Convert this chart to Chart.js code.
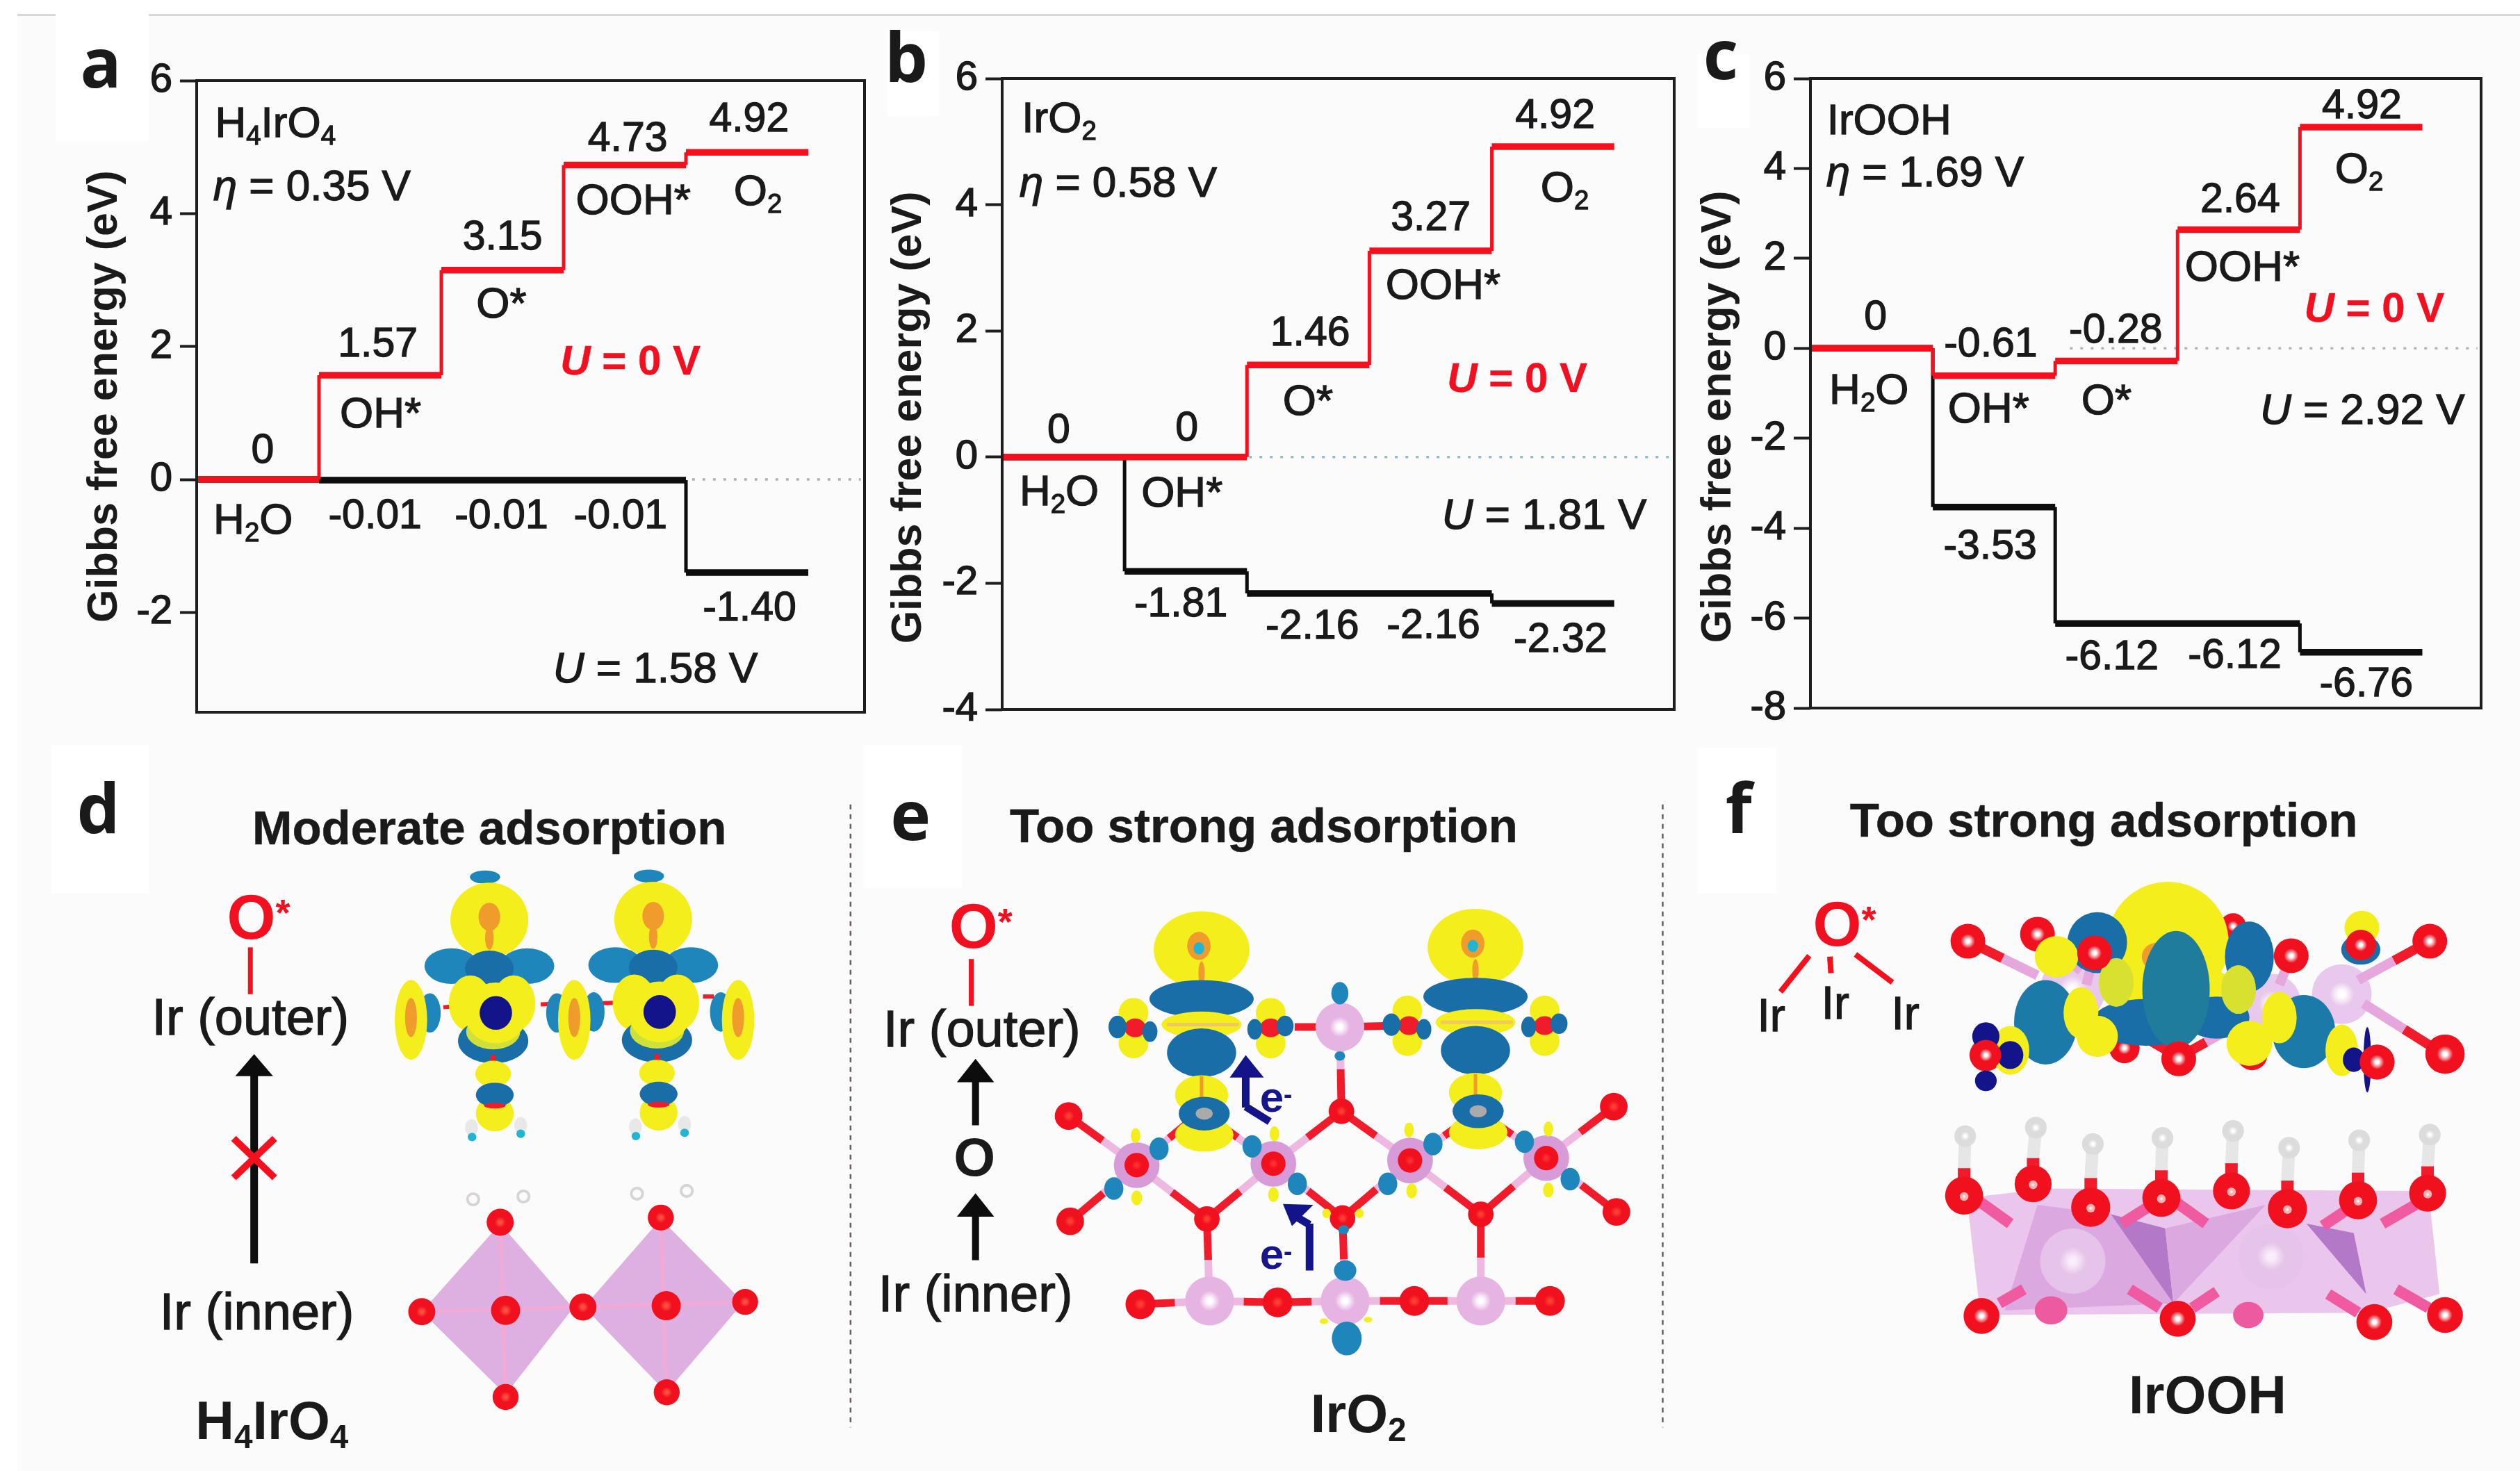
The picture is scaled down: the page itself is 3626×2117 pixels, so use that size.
<!DOCTYPE html>
<html>
<head>
<meta charset="utf-8">
<script src="https://cdn.jsdelivr.net/npm/chart.js@4"></script>
<style>
html,body{margin:0;padding:0;background:#fff}
#page{position:relative;width:3626px;height:2117px;overflow:hidden;background:#fff;font-family:"Liberation Sans",Arial,sans-serif;color:#1a1a1a;filter:blur(0.7px)}
#paper{position:absolute;left:25px;top:20px;right:0;bottom:0;background:#fbfbfb;border-top:3px solid #d9d9d9}
canvas{position:absolute}
.box{position:absolute;background:#fff}
.txt{position:absolute;white-space:nowrap;line-height:1;transform:translate(-50%,-50%);-webkit-text-stroke:1.3px #1a1a1a}
.txt sub{font-size:62%;line-height:0;vertical-align:-.28em}
.txt sup{font-size:60%;line-height:0;vertical-align:.35em}
.v{font-size:59px}
.s{font-size:62px}
.r{color:#f01020;-webkit-text-stroke:.4px #f01020;font-weight:bold;font-size:60px}
.k{font-family:"Open Sans";font-weight:bold;font-size:98px;-webkit-text-stroke:0}
.h{font-weight:bold;font-size:69px;-webkit-text-stroke:.5px #1a1a1a}
.ir{font-size:74px}
.f{font-size:66px}
.big{font-weight:bold;font-size:77px;-webkit-text-stroke:0}
.os{font-weight:bold;font-size:90px;color:#f01020;-webkit-text-stroke:0}
.navy{font-weight:bold;font-size:62px;color:#16168c;-webkit-text-stroke:0}
</style>
</head>
<body>
<div id="page"><div id="paper"></div></div>
<script>
// energies, one value per state
var energyA0=[0,1.57,3.15,4.73,4.92];
var energyAU=[0,-0.01,-0.01,-0.01,-1.40];
var energyB0=[0,0,1.46,3.27,4.92];
var energyBU=[0,-1.81,-2.16,-2.16,-2.32];
var energyC0=[0,-0.61,-0.28,2.64,4.92];
var energyCU=[0,-3.53,-6.12,-6.12,-6.76];
var majorA=[6,4,2,0,-2], minorA=[5,3,1,-1,-3];
var majorB=[6,4,2,0,-2,-4], minorB=[5,3,1,-1,-3];
var majorC=[6,4,2,0,-2,-4,-6,-8], minorC=[5,3,1,-1,-3,-5,-7];
var zeroStartA=4.05, zeroStartB=1.08, zeroStartC=2.12;

var RED='#f5101e', BLACK='#0d0d0d';

function levels(v){
  var pts=[];
  for(var i=0;i<v.length;i++){pts.push({x:i,y:v[i]},{x:i+1,y:v[i]},{x:i+1,y:null});}
  return pts;
}
function risers(v){
  var pts=[];
  for(var i=1;i<v.length;i++){pts.push({x:i,y:v[i-1]},{x:i,y:v[i]},{x:i,y:null});}
  return pts;
}
function frame(color){
  return {id:'frame',afterDatasetsDraw:function(chart){
    var a=chart.chartArea,c=chart.ctx;
    c.save();c.strokeStyle=color;c.lineWidth=4;
    c.strokeRect(a.left,a.top,a.right-a.left,a.bottom-a.top);
    c.restore();
  }};
}
function energyChart(o){
  var cv=document.createElement('canvas');
  cv.width=o.right+10-o.left;cv.height=o.bottom-o.top+100;
  cv.style.left=o.left+'px';cv.style.top=(o.top-50)+'px';
  document.getElementById('page').appendChild(cv);
  var line=function(data,color,w,order,dash){
    return {data:data,borderColor:color,borderWidth:w,pointRadius:0,order:order,spanGaps:false,borderDash:dash||[],borderCapStyle:'butt'};
  };
  new Chart(cv,{
    type:'line',
    data:{datasets:[
      line([{x:o.zeroStart,y:0},{x:o.xMax-0.03,y:0}],o.zeroColor,3.5,5,[4,11]),
      line(risers(o.u),BLACK,5,4),
      line(levels(o.u),BLACK,9.5,3),
      line(risers(o.e0),RED,5,2),
      line(levels(o.e0),RED,9.5,1)
    ]},
    options:{
      responsive:false,animation:false,
      layout:{padding:{top:50,bottom:50,right:10,left:0}},
      plugins:{legend:{display:false},tooltip:{enabled:false}},
      scales:{
        x:{type:'linear',display:false,min:0,max:o.xMax},
        y:{
          min:o.yMin,max:6,position:'left',
          afterBuildTicks:function(ax){ax.ticks=o.major.map(function(v){return {value:v};});},
          afterFit:function(ax){ax.width=o.axisW;},
          border:{display:false},
          grid:{drawOnChartArea:false,tickLength:24,tickWidth:4,tickColor:'#1d1d1d'},
          ticks:{autoSkip:false,padding:11,color:'#1a1a1a',textStrokeColor:'#1a1a1a',textStrokeWidth:1.5,font:{family:'Liberation Sans',size:58}},
          // trailing spaces push the centred title down the axis, as in the figure
          title:{display:true,text:'Gibbs free energy (eV)'+o.titlePad,color:'#1a1a1a',padding:0,font:{family:'Liberation Sans',size:61,weight:'bold'}}
        },
        yMinor:{
          min:o.yMin,max:6,position:'left',
          afterBuildTicks:function(ax){ax.ticks=o.minor.map(function(v){return {value:v};});},
          afterFit:function(ax){ax.width=0;},
          border:{display:false},
          grid:{drawOnChartArea:false,tickLength:9,tickWidth:3,tickColor:'#1d1d1d'},
          ticks:{display:false}
        }
      }
    },
    plugins:[frame('#1d1d1d')]
  });
}
energyChart({left:115,top:116,right:1244,bottom:1025,axisW:168,xMax:5.46,yMin:-3.5,e0:energyA0,u:energyAU,major:majorA,minor:minorA,zeroStart:zeroStartA,zeroColor:'#b0b0b0',titlePad:''});
energyChart({left:1272,top:113,right:2409,bottom:1021,axisW:170,xMax:5.49,yMin:-4,e0:energyB0,u:energyBU,major:majorB,minor:minorB,zeroStart:zeroStartB,zeroColor:'#8fbcc6',titlePad:'    '});
energyChart({left:2437,top:113,right:3570,bottom:1019,axisW:168,xMax:5.48,yMin:-8,e0:energyC0,u:energyCU,major:majorC,minor:minorC,zeroStart:zeroStartC,zeroColor:'#b4b4b4',titlePad:'    '});

// ---- schematic structures: each panel is a hidden 0-1568 scatter space over its crop ----
var YEL='#f4ee1c',BLU='#1f86bb',DBL='#1a6ea8',ORG='#ef9c2c',NAV='#14148a',HOT='#ee5aa0',GRN='#cfe03a',CYN='#22b4d4';

function copy(items,dx,dy){
  return items.map(function(s){
    if(s[0]=='p'){var p=s[2].map(function(v,i){return v+(i%2?dy:dx);});return ['p',s[1],p];}
    if(s[0]=='l'){return ['l',s[1]+dx,s[2]+dy,s[3]+dx,s[4]+dy,s[5],s[6],s[7]];}
    var t=s.slice();t[1]+=dx;t[2]+=dy;return t;
  });
}
function bonds(list,w,redC,pinkC){
  var out=[];
  list.forEach(function(b){
    var mx=(b[0]+b[2])/2,my=(b[1]+b[3])/2;
    out.push(['l',b[0],b[1],mx,my,w,redC||'#f01c2c']);
    out.push(['l',mx,my,b[2],b[3],w,pinkC||'#eeb8e0']);
  });
  return out;
}
function atoms(list,inner,outer){
  return list.map(function(a){return ['c',a[0],a[1],a[2],inner,outer];});
}
function drawScene(chart,items){
  var c=chart.ctx,sx=chart.scales.x,sy=chart.scales.y;
  var X=function(v){return sx.getPixelForValue(v);},Y=function(v){return sy.getPixelForValue(v);};
  var k=X(1)-X(0);
  c.save();
  items.forEach(function(s){
    if(s[0]=='e'){
      c.fillStyle=s[5];c.beginPath();
      c.ellipse(X(s[1]),Y(s[2]),s[3]*k,(Y(s[4])-Y(0)),0,0,Math.PI*2);c.fill();
    }else if(s[0]=='c'){
      var r=s[3]*k,g=c.createRadialGradient(X(s[1]),Y(s[2]),r*0.1,X(s[1]),Y(s[2]),r);
      g.addColorStop(0,s[4]);g.addColorStop(0.35,s[5]);g.addColorStop(1,s[5]);
      c.fillStyle=g;c.beginPath();c.arc(X(s[1]),Y(s[2]),r,0,Math.PI*2);c.fill();
    }else if(s[0]=='l'){
      c.strokeStyle=s[6];c.lineWidth=s[5];c.setLineDash(s[7]||[]);c.beginPath();
      c.moveTo(X(s[1]),Y(s[2]));c.lineTo(X(s[3]),Y(s[4]));c.stroke();c.setLineDash([]);
    }else if(s[0]=='p'){
      c.fillStyle=s[1];c.beginPath();
      for(var i=0;i<s[2].length;i+=2){c.lineTo(X(s[2][i]),Y(s[2][i+1]));}
      c.closePath();c.fill();
    }
  });
  c.restore();
}
function sceneChart(left,top,w,h,items){
  var cv=document.createElement('canvas');
  cv.width=w;cv.height=h;cv.style.left=left+'px';cv.style.top=top+'px';
  document.getElementById('page').appendChild(cv);
  new Chart(cv,{
    type:'scatter',data:{datasets:[]},
    options:{responsive:false,animation:false,
      plugins:{legend:{display:false},tooltip:{enabled:false}},
      scales:{x:{type:'linear',display:false,min:0,max:1568},y:{type:'linear',display:false,min:0,max:1568,reverse:true}}},
    plugins:[{id:'scene',afterDatasetsDraw:function(chart){drawScene(chart,items);}}]
  });
}

// panel d
var blobD=[
  ['e',897,300,28,14,BLU],
  ['e',905,392,72,80,YEL],['e',905,385,20,30,ORG],['e',905,430,8,25,ORG],
  ['e',835,490,50,38,BLU],['e',975,490,50,38,BLU],['e',905,495,45,38,DBL],
  ['e',870,570,40,60,YEL],['e',950,570,40,60,YEL],
  ['e',912,650,65,48,DBL],['e',912,630,50,38,GRN],
  ['e',917,590,58,65,YEL],['e',917,590,30,36,NAV],
  ['l',912,680,912,800,7,'#f01c2c'],
  ['e',912,720,33,28,YEL],['e',915,805,35,38,YEL],['e',915,765,35,26,DBL],['e',915,788,20,6,'#f01c2c'],
  ['e',872,835,12,18,'#e8e8e8'],['e',963,830,12,18,'#e8e8e8'],['e',873,855,8,9,CYN],['e',963,848,8,9,CYN],
  ['e',795,590,20,42,BLU],['e',1030,590,20,42,BLU]
];
var sideD=[];
[760,1062,1365].forEach(function(x){
  sideD.push(['e',x,605,30,85,YEL],['e',x,600,11,42,ORG]);
});
var polyD=[
  ['p','#deb0e2',[925,1040,1060,1220,935,1405,780,1228]],
  ['p','#deb0e2',[1222,1030,1375,1208,1232,1400,1080,1218]],
  ['l',925,1040,935,1405,5,'#f4a8d4'],['l',780,1228,1080,1218,5,'#f4a8d4'],
  ['l',1222,1030,1232,1400,5,'#f4a8d4'],['l',1080,1218,1378,1207,5,'#f4a8d4']
];
var oxyD=[[925,1037,25],[780,1228,25],[935,1225,27],[1078,1218,25],[935,1410,24],[1222,1027,24],[1232,1215,27],[1378,1207,24],[1233,1400,24]];
var hydD=[[875,988,13],[968,982,13],[1178,976,13],[1270,970,13]];
var sceneD=[].concat(
  [['l',463,450,463,550,7,RED]],
  [['l',470,720,470,1125,11,BLACK],['p',BLACK,[470,678,435,725,505,725]]],
  [['l',432,858,508,942,10,RED],['l',508,858,432,942,10,RED]],
  [['l',820,578,850,575,6,'#f01c2c'],['l',1000,572,1035,570,6,'#f01c2c'],['l',1100,570,1140,568,6,'#f01c2c'],['l',1300,555,1320,555,6,'#f01c2c']],
  blobD,copy(blobD,303,-2),sideD,
  polyD,
  atoms(hydD,'#fff','#d8d4d4').concat(atoms(hydD.map(function(h){return [h[0],h[1],h[2]-5];}),'#fbfbfb','#fbfbfb')),
  atoms(oxyD,'#ff5040','#f0101e')
);
sceneChart(0,1060,1220,1057,sceneD);

// panel e
var blobE=[
  ['e',665,455,90,82,YEL],['e',660,447,22,30,ORG],['e',660,452,10,13,CYN],['e',665,505,6,25,ORG],
  ['e',665,560,98,40,DBL],
  ['e',665,615,75,28,YEL],['l',600,615,735,615,5,'#f0c860'],
  ['e',665,675,65,52,DBL],
  ['e',670,850,55,36,YEL],
  ['e',665,765,50,42,YEL],['l',665,725,665,790,5,ORG],
  ['e',670,805,48,36,DBL],['e',670,805,16,13,'#aaa'],
  // side clusters
  ['e',537,590,28,32,YEL],['e',537,655,28,32,YEL],['e',795,590,28,32,YEL],['e',795,655,28,32,YEL],
  ['e',540,622,20,20,'#f01c2c'],['e',795,622,20,20,'#f01c2c'],
  ['e',507,620,17,24,DBL],['e',568,630,14,22,DBL],['e',765,625,14,22,DBL],['e',822,618,16,22,DBL]
];
var bondsE=[
  [415,810,543,915],[418,1035,543,915],[675,1030,543,915],[675,1030,800,912],[928,800,800,912],[930,1028,800,912],
  [928,800,1057,905],[930,1028,1057,905],[1190,1020,1057,905],[1190,1020,1313,900],[1440,790,1313,900],[1445,1015,1313,900],
  [665,800,543,915],[665,800,800,912],[1185,800,1057,905],[1185,800,1313,900],
  [675,1030,680,1205],[930,1028,935,1205],[1190,1020,1190,1205],[928,800,925,620],
  [550,1212,680,1205],[808,1208,680,1205],[808,1208,935,1205],[1065,1205,935,1205],[1065,1205,1190,1205],[1320,1205,1190,1205],
  [840,620,925,620],[1010,618,925,620]
];
var irTopE=[[925,620,46],[680,1205,46],[935,1205,46],[1190,1205,46]];
var irMidE=[[543,915,43],[800,912,43],[1057,905,43],[1313,900,43]];
var oxyE=[[928,800,24],[675,1030,24],[930,1028,24],[1190,1020,24],[415,810,26],[418,1035,26],[1440,790,26],[1445,1015,26],[550,1212,28],[808,1208,28],[1065,1205,28],[1320,1205,28]];
var redMidE=irMidE.map(function(a){return [a[0],a[1],23];});
var smallBlueE=[[585,880,18,24],[500,965,18,24],[760,875,18,24],[845,955,18,24],[1100,870,18,24],[1015,955,18,24],[1272,865,18,24],[1358,945,18,24],[925,548,16,24],[925,682,10,10],[935,1140,21,22],[938,1285,28,36],[932,1053,10,10]];
var smallYelE=[[541,852,9,16],[543,985,10,16],[802,848,9,16],[800,978,10,16],[1055,840,9,16],[1060,970,10,16],[1317,838,9,16],[1317,968,10,16],[900,1018,8,10],[962,1018,8,10],[895,1248,8,6],[978,1245,8,6]];
var navyE=[
  ['l',793,822,748,790,11,NAV],['l',748,792,748,720,11,NAV],['p',NAV,[748,680,718,728,782,728]],
  ['l',868,1140,868,1040,11,NAV],['l',868,1042,835,1020,11,NAV],['p',NAV,[818,998,875,1000,835,1045]]
];
var sceneE=[].concat(
  [['l',5,145,5,1475,2.5,'#6b5a66',[7,7]],['l',1532,145,1532,1475,2.5,'#6b5a66',[7,7]]],
  [['l',232,475,232,575,7,RED]],
  [['l',240,735,240,830,10,BLACK],['p',BLACK,[240,688,205,738,275,738]]],
  [['l',240,1020,240,1118,10,BLACK],['p',BLACK,[240,975,205,1025,275,1025]]],
  bonds(bondsE,11),
  atoms(irTopE,'#fff','#e6b4e2'),
  atoms(irMidE,'#f4d0f0','#d79cd8'),
  atoms(redMidE,'#ff3030','#f0101e'),
  atoms(oxyE,'#ff4030','#f0101e'),
  blobE,copy(blobE,515,-5),
  smallBlueE.map(function(a){return ['e',a[0],a[1],a[2],a[3],BLU];}),
  smallYelE.map(function(a){return ['e',a[0],a[1],a[2],a[3],YEL];}),
  navyE
);
sceneChart(1220,1060,1200,1057,sceneE);

// panel f
var bondsFtop=[[552,437,680,510],[680,425,760,500],[1402,437,1270,520],[1430,680,1280,570],[940,685,800,590],[940,685,1040,620],[785,462,770,530],[1147,468,1125,530]];
var oxyFtop=[[552,437,32],[680,422,32],[1402,437,32],[840,665,28],[1075,680,28],[1040,405,24],[1430,678,36],[1305,695,32],[585,680,30]];
var oxyFfront=[[785,462,32],[1147,468,32],[1275,445,28]];
var blobF=[
  ['e',920,440,112,130,YEL],['e',920,540,125,60,YEL],
  ['e',790,440,55,65,DBL],['e',1070,470,45,75,DBL],
  ['e',695,610,58,90,'#1c7aa8'],['e',1170,630,58,78,'#1c7aa8'],
  ['e',880,610,100,50,'#1a6ea8'],['e',1010,600,60,45,'#1a6ea8'],
  ['e',715,470,40,44,YEL],['e',790,640,38,44,YEL],['e',760,590,32,55,YEL],['e',825,525,32,52,'#d8e030'],
  ['e',1050,540,32,52,'#d8e030'],['e',1125,600,32,55,YEL],['e',1070,655,42,48,YEL],['e',1277,408,32,36,YEL],
  ['e',900,470,28,30,ORG],
  ['e',935,540,62,125,'#1f7d9b'],
  ['e',630,670,35,52,YEL],['e',585,640,25,30,NAV],['e',585,735,20,22,NAV],['e',630,680,24,30,NAV],
  ['e',1240,670,30,55,YEL],['e',1262,690,20,26,NAV],['e',1287,690,7,70,NAV],['e',1275,455,36,32,DBL]
];
var hydF=[[547,853],[677,835],[782,870],[910,857],[1040,842],[1143,878],[1272,862],[1402,850]];
var oxyFoh=[[672,955,34],[1037,970,34],[908,985,35],[1270,990,35],[1398,975,34],[545,980,35],[778,1005,36],[1140,1008,36]];
var stickF=[];
hydF.forEach(function(h,i){
  var order=[5,0,6,2,1,7,3,4][i],o=oxyFoh[order];
  stickF.push(['l',h[0],h[1],o[0],(h[1]+o[1])/2+5,18,'#e6e6e6'],['l',o[0],(h[1]+o[1])/2+5,o[0],o[1],18,'#f01c2c']);
});
var pinkF=[[570,990,630,1040],[835,1040,890,1000],[930,990,990,1040],[1205,1045,1250,1010],[1315,1040,1375,1000],[610,1210,655,1180],[850,1180,905,1220],[965,1220,1010,1185],[1215,1190,1270,1230],[1340,1180,1400,1220]];
var sceneF=[].concat(
  [['l',260,468,207,545,8,RED],['l',298,470,300,505,8,RED],['l',345,465,413,525,8,RED]],
  atoms([[745,540,60],[1110,570,55],[1240,550,55]],'#fff','#e8c8ec'),
  bonds(bondsFtop,14,'#f01c2c','#e6a8dc'),
  atoms(oxyFtop,'#fff','#f0101e'),
  blobF,
  atoms(oxyFfront,'#fff','#f0101e'),
  atoms([[940,688,32],[1305,695,32],[585,680,28],[1430,678,36]],'#fff','#f0101e'),
  [['p','#eac6ec',[550,985,700,965,1370,970,1400,975,1420,1190,1290,1230,575,1235]]],
  [['p','#dca8e0',[680,1000,815,1020,930,1210,620,1225]],['p','#b478c8',[815,1020,930,1210,915,1050]],['p','#dca8e0',[915,1050,930,1210,1100,1000]],['p','#b478c8',[1175,1040,1285,1190,1262,1060]]],
  atoms([[745,1120,60],[1110,1110,60]],'#fbeefb','#e6c4ea'),
  pinkF.map(function(s){return ['l',s[0],s[1],s[2],s[3],16,'#ef5aa0'];}),
  [['e',705,1225,30,30,HOT],['e',1068,1235,28,28,HOT]],
  stickF,
  atoms(hydF.map(function(h){return [h[0],h[1],20];}),'#fff','#dcdcdc'),
  atoms(oxyFoh,'#f0101e','#f0101e'),
  atoms(oxyFoh.map(function(o){return [o[0],o[1]+2,8];}),'#fff','#ffb0b0'),
  atoms([[577,1237,33],[938,1243,33],[1300,1250,33],[1430,1235,33]],'#fff','#f0101e')
);
sceneChart(2400,1060,1226,1057,sceneF);

// ---- white label boxes and text ----
var boxes=[[80,0,134,203],[1277,45,74,122],[2443,78,74,106],[74,1072,140,214],[1243,1072,141,206],[2443,1076,113,210]];
boxes.forEach(function(b,i){
  var d=document.createElement('div');d.className='box';
  d.style.cssText='left:'+b[0]+'px;top:'+b[1]+'px;width:'+b[2]+'px;height:'+b[3]+'px';
  document.getElementById('page').insertBefore(d,document.querySelector('canvas'));
});
function addTexts(ox,oy,kx,ky,list){
  list.forEach(function(t){
    var d=document.createElement('div');
    d.className='txt '+t[3];d.innerHTML=t[0];
    d.style.left=(ox+t[1]*kx)+'px';d.style.top=(oy+t[2]*ky)+'px';
    document.getElementById('page').appendChild(d);
  });
}
var H2O='H<sub>2</sub>O',O2='O<sub>2</sub>';
var textsA=[
  ['a',182,130,'k'],['H<sub>4</sub>IrO<sub>4</sub>',497,260,'s'],['<i>η</i> = 0.35 V',563,395,'s'],
  ['4.92',1352,250,'v'],['4.73',1133,292,'v'],['3.15',907,502,'v'],['1.57',682,730,'v'],['0',474,955,'v'],
  [O2,1368,405,'s'],['OOH*',1143,425,'s'],['O*',905,645,'s'],['OH*',687,878,'s'],[H2O,457,1105,'s'],
  ['<i>U</i> = 0 V',1138,768,'r'],
  ['-0.01',677,1095,'v'],['-0.01',905,1095,'v'],['-0.01',1120,1095,'v'],['-1.40',1353,1292,'v'],['<i>U</i> = 1.58 V',1183,1422,'s']
];
var textsB=[
  ['b',95,118,'k'],['IrO<sub>2</sub>',378,250,'s'],['<i>η</i> = 0.58 V',487,388,'s'],
  ['4.92',1295,243,'v'],[O2,1313,398,'s'],['3.27',1065,460,'v'],['OOH*',1088,605,'s'],['1.46',842,705,'v'],['O*',838,852,'s'],
  ['<i>U</i> = 0 V',1225,805,'r'],['0',377,912,'v'],['0',614,908,'v'],[H2O,378,1045,'s'],['OH*',605,1048,'s'],
  ['<i>U</i> = 1.81 V',1275,1095,'s'],['-1.81',603,1282,'v'],['-2.16',846,1330,'v'],['-2.16',1070,1328,'v'],['-2.32',1305,1358,'v']
];
var textsC=[
  ['c',97,112,'k'],['IrOOH',407,255,'s'],['<i>η</i> = 1.69 V',473,365,'s'],
  ['4.92',1277,222,'v'],[O2,1272,358,'s'],['2.64',1053,422,'v'],['OOH*',1057,567,'s'],['<i>U</i> = 0 V',1300,655,'r'],
  ['0',382,672,'v'],['-0.61',594,730,'v'],['-0.28',824,700,'v'],[H2O,370,828,'s'],['OH*',590,868,'s'],['O*',807,850,'s'],
  ['<i>U</i> = 2.92 V',1278,872,'s'],['-3.53',593,1160,'v'],['-6.12',817,1395,'v'],['-6.12',1043,1392,'v'],['-6.76',1285,1452,'v']
];
var textsD=[
  ['d',182,150,'k'],['Moderate adsorption',905,195,'h'],['O<sup>*</sup>',478,385,'os'],['Ir (outer)',463,600,'ir'],['Ir (inner)',475,1228,'ir'],
  ['H<sub>4</sub>IrO<sub>4</sub>',503,1460,'big']
];
var textsE=[
  ['e',118,165,'k'],['Too strong adsorption',782,190,'h'],['O<sup>*</sup>',250,405,'os'],['Ir (outer)',252,625,'ir'],['O',238,898,'big'],['Ir (inner)',240,1190,'ir'],
  ['IrO<sub>2</sub>',960,1445,'big'],['e<sup>-</sup>',805,770,'navy'],['e<sup>-</sup>',805,1105,'navy']
];
var textsF=[
  ['f',130,150,'k'],['Too strong adsorption',802,178,'h'],['O<sup>*</sup>',325,400,'os'],['Ir',190,595,'f'],['Ir',308,568,'f'],['Ir',437,590,'f'],
  ['IrOOH',993,1405,'big']
];
addTexts(0,0,1250/1568,1060/1568,textsA);
addTexts(1230,0,1220/1568,1060/1568,textsB);
addTexts(2400,0,1226/1568,1060/1568,textsC);
addTexts(0,1060,1220/1568,1057/1568,textsD);
addTexts(1220,1060,1200/1568,1057/1568,textsE);
addTexts(2400,1060,1226/1568,1057/1568,textsF);
</script>
</body>
</html>
